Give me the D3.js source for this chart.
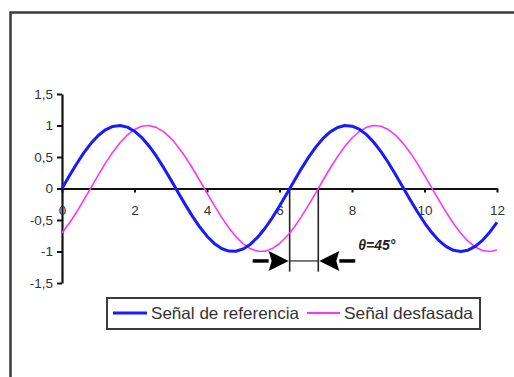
<!DOCTYPE html>
<html>
<head>
<meta charset="utf-8">
<script src="https://cdn.jsdelivr.net/npm/d3@7"></script>
<style>
  html, body { margin: 0; padding: 0; background: #fff; }
  svg { display: block; }
  text { font-family: Arial, "Liberation Sans", sans-serif; }
</style>
</head>
<body>
<svg id="chart" width="514" height="377"></svg>
<script>
// Sample positions (time axis)
const xValues = [
  0, 0.2, 0.4, 0.6, 0.8, 1.0, 1.2, 1.4, 1.6, 1.8,
  2.0, 2.2, 2.4, 2.6, 2.8, 3.0, 3.2, 3.4, 3.6, 3.8,
  4.0, 4.2, 4.4, 4.6, 4.8, 5.0, 5.2, 5.4, 5.6, 5.8,
  6.0, 6.2, 6.4, 6.6, 6.8, 7.0, 7.2, 7.4, 7.6, 7.8,
  8.0, 8.2, 8.4, 8.6, 8.8, 9.0, 9.2, 9.4, 9.6, 9.8,
  10.0, 10.2, 10.4, 10.6, 10.8, 11.0, 11.2, 11.4, 11.6, 11.8,
  12.0
];

// Reference signal
const referenceValues = [
  0.000, 0.199, 0.389, 0.565, 0.717, 0.841, 0.932, 0.985, 1.000, 0.974,
  0.909, 0.808, 0.675, 0.516, 0.335, 0.141, -0.058, -0.256, -0.443, -0.612,
  -0.757, -0.872, -0.952, -0.994, -0.996, -0.959, -0.883, -0.773, -0.631, -0.465,
  -0.279, -0.083, 0.117, 0.312, 0.494, 0.657, 0.794, 0.899, 0.968, 0.999,
  0.989, 0.941, 0.855, 0.734, 0.585, 0.412, 0.223, 0.025, -0.174, -0.366,
  -0.544, -0.700, -0.828, -0.923, -0.981, -1.000, -0.979, -0.919, -0.823, -0.694,
  -0.537
];

// Shifted signal (45 degrees behind)
const shiftedValues = [
  -0.707, -0.552, -0.376, -0.184, 0.015, 0.213, 0.403, 0.577, 0.727, 0.849,
  0.937, 0.988, 0.999, 0.970, 0.903, 0.800, 0.664, 0.503, 0.321, 0.127,
  -0.073, -0.269, -0.455, -0.623, -0.767, -0.878, -0.957, -0.996, -0.995, -0.953,
  -0.873, -0.762, -0.618, -0.450, -0.265, -0.069, 0.131, 0.325, 0.506, 0.667,
  0.802, 0.905, 0.971, 0.999, 0.987, 0.936, 0.847, 0.724, 0.573, 0.399,
  0.209, 0.011, -0.188, -0.380, -0.556, -0.710, -0.836, -0.928, -0.983, -1.000,
  -0.977
];

const seriesNames = ["Señal de referencia", "Señal desfasada"];
const seriesColors = ["#1a1aff", "#ff33ff"];

const xTicks = [0, 2, 4, 6, 8, 10, 12];
const yTicks = [1.5, 1, 0.5, 0, -0.5, -1, -1.5];

// Zero crossings marking the phase gap
const phaseCrossings = [6.28, 7.07];
const phaseLabel = "θ=45°";

const svg = d3.select("#chart");

// Outer chart frame
svg.append("rect")
  .attr("x", 10.5).attr("y", 12.5)
  .attr("width", 520).attr("height", 380)
  .attr("fill", "none")
  .attr("stroke", "#3a3a3a")
  .attr("stroke-width", 2.5);

const x = d3.scaleLinear().domain([0, 12]).range([62, 497]);
const y = d3.scaleLinear().domain([-1.5, 1.5]).range([283, 94]);

const fmt = d => String(d).replace(".", ",");

// Y axis
const yAxis = svg.append("g")
  .attr("transform", `translate(${x(0)},0)`)
  .call(d3.axisLeft(y).tickValues(yTicks).tickSize(5).tickSizeOuter(0).tickFormat(fmt).tickPadding(4));
yAxis.select(".domain").attr("stroke", "#111").attr("stroke-width", 2.2);
yAxis.selectAll(".tick line").attr("stroke", "#111").attr("stroke-width", 2);
yAxis.selectAll(".tick text")
  .attr("font-size", 13.5)
  .attr("fill", "#333");

// X axis along the zero line
const xAxis = svg.append("g")
  .attr("transform", `translate(0,${y(0)})`)
  .call(d3.axisBottom(x).tickValues(xTicks).tickSize(4).tickSizeOuter(0).tickFormat(fmt).tickPadding(13));
xAxis.select(".domain").attr("stroke", "#111").attr("stroke-width", 2.2);
xAxis.selectAll(".tick line").attr("stroke", "#111").attr("stroke-width", 2);
xAxis.selectAll(".tick text")
  .attr("font-size", 13.5)
  .attr("fill", "#333");

// Phase gap markers
const gapTop = 0, gapBottom = -1.32, arrowY = -1.15;
const ann = svg.append("g").attr("stroke", "#222");
phaseCrossings.forEach(c => {
  ann.append("line")
    .attr("x1", x(c)).attr("x2", x(c))
    .attr("y1", y(gapTop)).attr("y2", y(gapBottom))
    .attr("stroke-width", 1.6);
});
ann.append("line")
  .attr("x1", x(phaseCrossings[0])).attr("x2", x(phaseCrossings[1]))
  .attr("y1", y(arrowY)).attr("y2", y(arrowY))
  .attr("stroke-width", 1.2);

// Arrows pointing at each crossing from outside
const headLen = 20, headHalf = 10, shaftLen = 16;
function arrow(tipX, dir) {
  const ay = y(arrowY);
  const baseX = tipX - dir * headLen;
  svg.append("line")
    .attr("x1", baseX).attr("x2", baseX - dir * shaftLen)
    .attr("y1", ay).attr("y2", ay)
    .attr("stroke", "#000").attr("stroke-width", 3.5);
  svg.append("path")
    .attr("d", `M${tipX},${ay} L${baseX},${ay - headHalf} L${baseX + dir * 3},${ay} L${baseX},${ay + headHalf} Z`)
    .attr("fill", "#000");
}
arrow(x(phaseCrossings[0]) - 1, 1);
arrow(x(phaseCrossings[1]) + 1, -1);

svg.append("text")
  .attr("x", x(8.17)).attr("y", y(-0.98))
  .attr("font-family", "'Times New Roman', 'Liberation Serif', serif")
  .attr("font-style", "italic")
  .attr("font-weight", "bold")
  .attr("font-size", 14)
  .attr("fill", "#222")
  .text(phaseLabel);

// Series lines
const line = d3.line()
  .x((d, i) => x(xValues[i]))
  .y(d => y(d));

svg.append("path")
  .datum(shiftedValues)
  .attr("d", line)
  .attr("fill", "none")
  .attr("stroke", seriesColors[1])
  .attr("stroke-width", 1.6)
  .attr("stroke-linejoin", "round");

svg.append("path")
  .datum(referenceValues)
  .attr("d", line)
  .attr("fill", "none")
  .attr("stroke", seriesColors[0])
  .attr("stroke-width", 3)
  .attr("stroke-linejoin", "round");

// Legend
const legend = svg.append("g");
legend.append("rect")
  .attr("x", 107).attr("y", 298)
  .attr("width", 373).attr("height", 31)
  .attr("fill", "#fff")
  .attr("stroke", "#3a3a3a")
  .attr("stroke-width", 2);

const legendItems = [
  { x0: 113, x1: 147, tx: 151, width: 3, tl: 148 },
  { x0: 307, x1: 340, tx: 344, width: 1.8, tl: 129 }
];
legendItems.forEach((it, i) => {
  legend.append("line")
    .attr("x1", it.x0).attr("x2", it.x1)
    .attr("y1", 313).attr("y2", 313)
    .attr("stroke", seriesColors[i])
    .attr("stroke-width", it.width);
  legend.append("text")
    .attr("x", it.tx).attr("y", 319)
    .attr("font-size", 16.5)
    .attr("fill", "#333")
    .attr("textLength", it.tl)
    .attr("lengthAdjust", "spacingAndGlyphs")
    .text(seriesNames[i]);
});
</script>
</body>
</html>
